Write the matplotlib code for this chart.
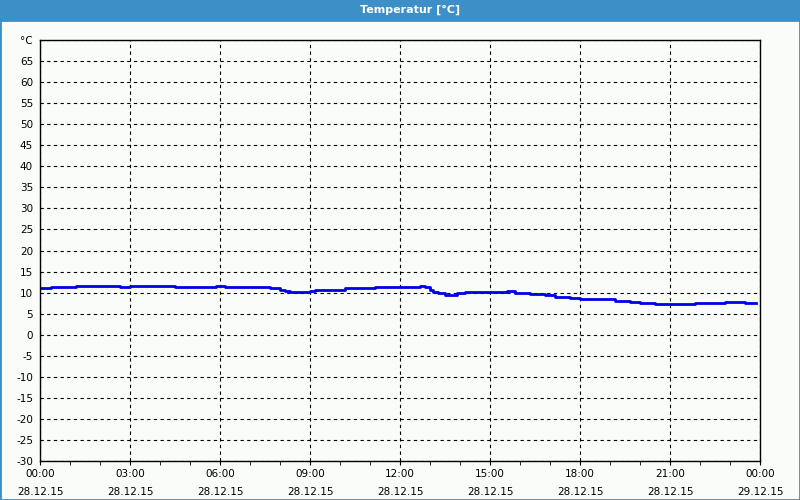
import numpy as np
import matplotlib.pyplot as plt
from matplotlib.patches import Rectangle

# hours since 28.12.15 00:00 and temperature readings (step changes)
hours = [0.0, 0.37, 1.2, 2.67, 3.0, 4.5, 5.87, 6.17, 7.67, 8.0, 8.17, 8.33,
         9.0, 9.17, 10.17, 11.17, 12.67, 12.83, 13.0, 13.1, 13.27, 13.5,
         13.9, 14.17, 15.57, 15.83, 16.33, 16.83, 17.17, 17.67, 18.0, 19.17,
         19.67, 20.0, 20.5, 21.83, 22.83, 23.5, 23.87]
temps = [11.0, 11.3, 11.6, 11.3, 11.6, 11.3, 11.6, 11.3, 11.0, 10.7, 10.4, 10.2,
         10.4, 10.7, 11.0, 11.3, 11.6, 11.3, 10.7, 10.2, 9.8, 9.45,
         9.8, 10.07, 10.3, 9.8, 9.6, 9.45, 9.05, 8.65, 8.4, 8.1,
         7.7, 7.45, 7.2, 7.45, 7.7, 7.45, 7.45]

x_ticks = [0, 3, 6, 9, 12, 15, 18, 21, 24]
x_labels = ["00:00\n28.12.15", "03:00\n28.12.15", "06:00\n28.12.15",
            "09:00\n28.12.15", "12:00\n28.12.15", "15:00\n28.12.15",
            "18:00\n28.12.15", "21:00\n28.12.15", "00:00\n29.12.15"]
y_ticks = list(range(-30, 75, 5))
y_labels = [str(v) for v in y_ticks[:-1]] + ["°C"]

bg = "#fafcf9"
bar = "#3c8fc7"

fig = plt.figure(figsize=(8, 5), dpi=100, facecolor=bg)

# title bar and frame
fig.patches.append(Rectangle((0, 0.96), 1, 0.04, transform=fig.transFigure,
                             facecolor=bar, edgecolor="none"))
fig.patches.append(Rectangle((0, 0), 1, 0.961, transform=fig.transFigure,
                             facecolor="none", edgecolor=bar, linewidth=2))
fig.text(0.512, 0.98, "Temperatur [°C]", color="white", fontsize=8,
         fontweight="bold", ha="center", va="center")

ax = fig.add_axes([0.05, 0.078, 0.9, 0.842])
ax.set_facecolor(bg)
ax.plot(hours, temps, color="#0000e6", linewidth=2.0, drawstyle="steps-post")

ax.set_xlim(0, 24)
ax.set_ylim(-30, 70)
ax.set_xticks(x_ticks)
ax.set_xticklabels(x_labels, fontsize=7.5, linespacing=1.9)
ax.set_xticks(np.arange(0, 25, 1), minor=True)
ax.set_yticks(y_ticks)
ax.set_yticklabels(y_labels, fontsize=7.5)
ax.tick_params(axis="x", which="both", length=3, direction="out", pad=3)
ax.tick_params(axis="y", length=0, pad=5)

ax.grid(True, which="major", color="black", linestyle=(0, (3, 3)), linewidth=0.8)
for s in ax.spines.values():
    s.set_color("black")
    s.set_linewidth(1)

fig.savefig("out.png", dpi=100, facecolor=bg)
